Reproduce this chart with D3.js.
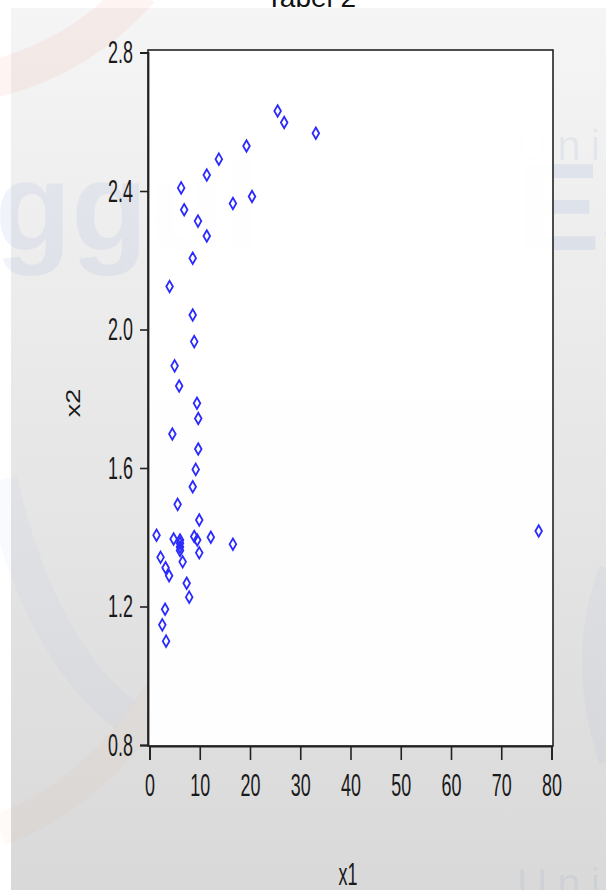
<!DOCTYPE html>
<html><head><meta charset="utf-8">
<script src="https://cdn.jsdelivr.net/npm/d3@7"></script>
<style>body{margin:0;background:#fff;} svg{display:block}</style>
</head><body><svg id="c" width="606" height="890"></svg>
<script>
// ---- data ----
const title = "Tabel 2";
const xLabel = "x1";
const yLabel = "x2";
const x1 = [25.5, 26.8, 33.1, 19.3, 13.8, 11.4, 6.3, 20.4, 16.6, 6.9, 9.65, 11.4, 8.6, 4.0,
            8.6, 8.9, 5.0, 5.9, 9.45, 9.7, 4.55, 9.7, 9.2,
            8.6, 5.6, 9.9, 1.4, 4.8, 6.07, 6.07, 6.07, 6.07, 8.9, 9.5, 12.2, 16.6, 9.9,
            2.2, 6.6, 3.2, 3.9, 7.4, 7.9, 3.1, 2.55, 3.3, 77.45];
const x2 = [2.631, 2.598, 2.567, 2.530, 2.492, 2.446, 2.409, 2.384, 2.364, 2.346, 2.313, 2.270, 2.206, 2.124,
            2.042, 1.965, 1.895, 1.837, 1.787, 1.743, 1.698, 1.655, 1.596,
            1.546, 1.495, 1.450, 1.406, 1.395, 1.392, 1.383, 1.372, 1.362, 1.402, 1.392, 1.400, 1.380, 1.355,
            1.342, 1.329, 1.312, 1.289, 1.267, 1.227, 1.192, 1.147, 1.100, 1.418];
const xTicks = [0, 10, 20, 30, 40, 50, 60, 70, 80];
const yTicks = [0.8, 1.2, 1.6, 2.0, 2.4, 2.8];

const svg = d3.select("#c");
const defs = svg.append("defs");
const grad = defs.append("linearGradient").attr("id","bg").attr("x1",0).attr("y1",0).attr("x2",0).attr("y2",1);
grad.append("stop").attr("offset","0%").attr("stop-color","#f5f5f5");
grad.append("stop").attr("offset","100%").attr("stop-color","#d9d9d9");

const font = "'Liberation Sans', Arial, sans-serif";

// slide panel
svg.append("rect").attr("x",11).attr("y",8).attr("width",595).attr("height",882).attr("fill","url(#bg)");

// faint watermark (behind the chart)
const wm = svg.append("g").attr("pointer-events","none");
wm.append("path").attr("d","M -10 80 Q 80 58 140 -10").attr("fill","none")
  .attr("stroke","#f07850").attr("stroke-opacity",0.07).attr("stroke-width",38);
wm.append("path").attr("d","M 235 520 Q 160 770 0 830").attr("fill","none")
  .attr("stroke","#f07850").attr("stroke-opacity",0.04).attr("stroke-width",32);
wm.append("path").attr("d","M 0 480 Q 40 650 125 715").attr("fill","none")
  .attr("stroke","#5a82c8").attr("stroke-opacity",0.045).attr("stroke-width",34);
wm.append("path").attr("d","M 612 570 Q 578 660 612 760").attr("fill","none")
  .attr("stroke","#5a82c8").attr("stroke-opacity",0.05).attr("stroke-width",26);
wm.append("text").attr("x",-5).attr("y",250).attr("font-family",font).attr("font-weight","bold")
  .attr("font-size",125).attr("fill","#3b6fc4").attr("fill-opacity",0.08).text("ggul");
wm.append("text").attr("x",517).attr("y",250).attr("font-family",font).attr("font-weight","bold")
  .attr("font-size",125).attr("fill","#3b6fc4").attr("fill-opacity",0.09).text("Es");
wm.append("text").attr("x",517).attr("y",160).attr("font-family",font)
  .attr("font-size",42).attr("letter-spacing",10).attr("fill","#5a7ab0").attr("fill-opacity",0.09).text("Uni");
wm.append("text").attr("x",517).attr("y",898).attr("font-family",font)
  .attr("font-size",42).attr("letter-spacing",10).attr("fill","#5a7ab0").attr("fill-opacity",0.09).text("Uni");

// title
svg.append("text").attr("x",311).attr("y",7).attr("text-anchor","middle")
  .attr("font-family",font).attr("font-size",28)
  .attr("fill","#111").text(title);

// scales
const box = {left:148, right:553, top:50, bottom:746};
const x = d3.scaleLinear().domain([0,80]).range([149.5,551.5]);
const y = d3.scaleLinear().domain([0.8,2.8]).range([745,52.5]);

// plot area
svg.append("rect").attr("x",box.left).attr("y",box.top)
  .attr("width",box.right-box.left).attr("height",box.bottom-box.top)
  .attr("fill","#fff").attr("fill-opacity",0.96).attr("stroke","#222").attr("stroke-width",1.6);

const sx = 0.56;

// x axis
const gx = svg.append("g").attr("transform",`translate(0,${box.bottom})`)
  .call(d3.axisBottom(x).tickValues(xTicks).tickSize(14).tickPadding(13).tickFormat(d3.format("d")));
gx.select(".domain").attr("stroke","#222").attr("stroke-width",1.8);
gx.selectAll(".tick line").attr("stroke","#222").attr("stroke-width",1.6);
gx.selectAll(".tick text").attr("font-family",font).attr("font-size",32).attr("fill","#1a1a1a")
  .attr("transform",`scale(${sx},1)`);

// y axis
const gy = svg.append("g").attr("transform",`translate(${box.left},0)`)
  .call(d3.axisLeft(y).tickValues(yTicks).tickSize(8).tickPadding(6).tickFormat(d3.format(".1f")));
gy.select(".domain").attr("stroke","#222").attr("stroke-width",1.8);
gy.selectAll(".tick line").attr("stroke","#222").attr("stroke-width",1.6);
gy.selectAll(".tick text").attr("font-family",font).attr("font-size",32).attr("fill","#1a1a1a")
  .attr("x",-15/sx).attr("transform",`scale(${sx},1)`);

// axis labels
svg.append("text").attr("transform",`translate(348,885) scale(${sx},1)`).attr("text-anchor","middle")
  .attr("font-family",font).attr("font-size",32).attr("fill","#1a1a1a").text(xLabel);
svg.append("text").attr("transform",`translate(80,403) scale(0.75,1) rotate(-90)`).attr("text-anchor","middle")
  .attr("font-family",font).attr("font-size",27).attr("fill","#1a1a1a").text(yLabel);

// points
const pts = x1.map((v,i)=>({a:v,b:x2[i]}));
const sym = d3.symbol().type(d3.symbolDiamond).size(38);
svg.append("g").selectAll("path").data(pts).join("path")
  .attr("d",sym).attr("transform",d=>`translate(${x(d.a)},${y(d.b)})`)
  .attr("fill","none").attr("stroke","#2a2aff").attr("stroke-width",1.8);
</script></body></html>
